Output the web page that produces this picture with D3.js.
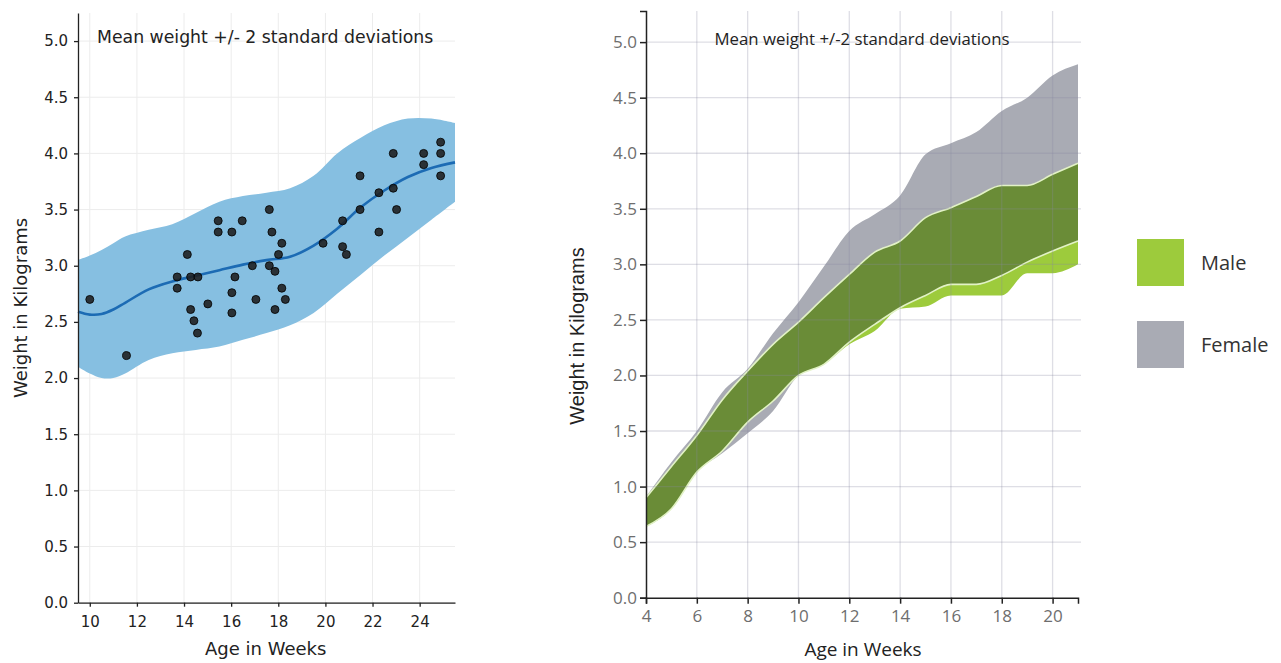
<!DOCTYPE html>
<html>
<head>
<meta charset="utf-8">
<script src="https://cdn.jsdelivr.net/npm/d3@7"></script>
<style>
  body { margin: 0; background: #fff; }
  svg { display: block; }
</style>
</head>
<body>
<svg width="1281" height="663"></svg>
<script>
// ---- left panel data: mean weight +/- 2 sd, with observed points
const bandAges  = [9.5, 10, 10.5, 11, 11.5, 12.5, 13.5, 14.5, 15.5, 16.5, 17.5, 18.5, 19.5, 20.5, 21.5, 22.5, 23.5, 24.5, 25.5];
const bandUpper = [3.05, 3.09, 3.14, 3.20, 3.26, 3.32, 3.37, 3.47, 3.57, 3.62, 3.65, 3.69, 3.80, 4.00, 4.14, 4.25, 4.31, 4.31, 4.27];
const bandMean  = [2.59, 2.565, 2.57, 2.61, 2.67, 2.79, 2.86, 2.91, 2.96, 3.01, 3.05, 3.08, 3.18, 3.33, 3.52, 3.67, 3.79, 3.87, 3.92];
const bandLower = [2.10, 2.04, 2.00, 2.00, 2.04, 2.16, 2.22, 2.25, 2.28, 2.34, 2.40, 2.47, 2.58, 2.75, 2.92, 3.09, 3.25, 3.41, 3.57];

const pointWeeks = [10.0, 11.56, 13.71, 13.71, 14.14, 14.28, 14.59, 14.28, 14.42, 14.57, 15.01, 15.45, 15.45, 16.03, 16.47,
                    16.16, 16.03, 16.03, 16.9, 17.05, 17.62, 17.73, 17.62, 17.86, 18.01, 18.15, 18.15, 18.3, 17.86, 19.9,
                    20.73, 20.73, 20.89, 21.47, 21.47, 22.27, 22.27, 22.88, 22.88, 23.02, 24.17, 24.17, 24.89, 24.89, 24.89];
const pointKgs   = [2.70, 2.20, 2.90, 2.80, 3.10, 2.90, 2.90, 2.61, 2.51, 2.40, 2.66, 3.40, 3.30, 3.30, 3.40,
                    2.90, 2.76, 2.58, 3.00, 2.70, 3.50, 3.30, 3.00, 2.95, 3.10, 3.20, 2.80, 2.70, 2.61, 3.20,
                    3.40, 3.17, 3.10, 3.80, 3.50, 3.65, 3.30, 4.00, 3.69, 3.50, 4.00, 3.90, 4.10, 4.00, 3.80];

// ---- right panel data: male / female ranges by week
const weeks       = [4, 5, 6, 7, 8, 9, 10, 11, 12, 13, 14, 15, 16, 17, 18, 19, 20, 21];
const femaleUpper = [0.91, 1.22, 1.50, 1.85, 2.06, 2.38, 2.66, 2.98, 3.30, 3.45, 3.62, 3.99, 4.09, 4.19, 4.38, 4.50, 4.70, 4.80];
const maleUpper   = [0.90, 1.18, 1.46, 1.78, 2.04, 2.28, 2.48, 2.70, 2.91, 3.11, 3.21, 3.42, 3.51, 3.61, 3.71, 3.71, 3.81, 3.91];
const femaleLower = [0.64, 0.80, 1.13, 1.30, 1.48, 1.68, 2.00, 2.10, 2.30, 2.46, 2.61, 2.72, 2.82, 2.82, 2.90, 3.02, 3.12, 3.21];
const maleLower   = [0.64, 0.80, 1.13, 1.32, 1.58, 1.77, 2.00, 2.10, 2.28, 2.40, 2.60, 2.62, 2.72, 2.72, 2.72, 2.92, 2.92, 3.00];

const legendLabels = ["Male", "Female"];
const leftXTicks  = [10, 12, 14, 16, 18, 20, 22, 24];
const rightXTicks = [4, 6, 8, 10, 12, 14, 16, 18, 20];
const yTicks      = [0, 0.5, 1, 1.5, 2, 2.5, 3, 3.5, 4, 4.5, 5];

const svg = d3.select("svg");

// ================= left panel =================
const L = { left: 78, right: 455, top: 13, bottom: 602.7 };
const xL = d3.scaleLinear().domain([9.5, 25.5]).range([L.left, L.right]);
const yL = d3.scaleLinear().domain([0, 5.25]).range([L.bottom, L.top]);

const gl = svg.append("g");

// grid
gl.selectAll(".vg").data(leftXTicks).enter().append("line")
  .attr("x1", d => xL(d)).attr("x2", d => xL(d))
  .attr("y1", L.top).attr("y2", L.bottom)
  .attr("stroke", "#ececec").attr("stroke-width", 1);
gl.selectAll(".hg").data(yTicks).enter().append("line")
  .attr("x1", L.left).attr("x2", L.right)
  .attr("y1", d => yL(d)).attr("y2", d => yL(d))
  .attr("stroke", "#ececec").attr("stroke-width", 1);

const leftRows = bandAges.map((a, i) => ({ a, u: bandUpper[i], m: bandMean[i], l: bandLower[i] }));

gl.append("path")
  .datum(leftRows)
  .attr("d", d3.area().x(d => xL(d.a)).y0(d => yL(d.l)).y1(d => yL(d.u)).curve(d3.curveCatmullRom))
  .attr("fill", "#86bfe1");

gl.append("path")
  .datum(leftRows)
  .attr("d", d3.line().x(d => xL(d.a)).y(d => yL(d.m)).curve(d3.curveCatmullRom))
  .attr("fill", "none")
  .attr("stroke", "#1c6bb4")
  .attr("stroke-width", 2.6);

gl.selectAll(".pt").data(pointWeeks).enter().append("circle")
  .attr("cx", d => xL(d))
  .attr("cy", (d, i) => yL(pointKgs[i]))
  .attr("r", 4)
  .attr("fill", "#1e1e1e")
  .attr("fill-opacity", 0.88)
  .attr("stroke", "#000")
  .attr("stroke-width", 0.8);

// axes
const axL = gl.append("g")
  .attr("transform", `translate(0,${L.bottom})`)
  .call(d3.axisBottom(xL).tickValues(leftXTicks).tickFormat(d3.format("d")).tickSize(4).tickSizeOuter(0).tickPadding(10));
const ayL = gl.append("g")
  .attr("transform", `translate(${L.left},0)`)
  .call(d3.axisLeft(yL).tickValues(yTicks).tickFormat(d3.format(".1f")).tickSize(4).tickSizeOuter(0).tickPadding(6));
[axL, ayL].forEach(g => {
  g.selectAll("path, line").attr("stroke", "#222").attr("stroke-width", 1.3);
  g.selectAll("text").attr("fill", "#222").style("font-family", "DejaVu Sans").style("font-size", "15px");
});

gl.append("text")
  .attr("x", 97).attr("y", 43)
  .style("font-family", "DejaVu Sans").style("font-size", "17.3px").attr("fill", "#222")
  .text("Mean weight +/- 2 standard deviations");

gl.append("text")
  .attr("x", 265.7).attr("y", 655)
  .attr("text-anchor", "middle")
  .style("font-family", "DejaVu Sans").style("font-size", "18px").attr("fill", "#222")
  .text("Age in Weeks");

gl.append("text")
  .attr("transform", "translate(27,308) rotate(-90)")
  .attr("text-anchor", "middle")
  .style("font-family", "DejaVu Sans").style("font-size", "18px").attr("fill", "#222")
  .text("Weight in Kilograms");

// ================= right panel =================
const R = { left: 646, right: 1078, top: 11, bottom: 597.7 };
const xR = d3.scaleLinear().domain([4, 21]).range([R.left, R.right]);
const yR = d3.scaleLinear().domain([0, 5.28]).range([R.bottom, R.top]);

const gr = svg.append("g");

const rightRows = weeks.map((w, i) => ({
  w,
  fu: femaleUpper[i], fl: femaleLower[i],
  mu: maleUpper[i], ml: maleLower[i]
}));

const femaleColor = "#a9abb4";
const maleColor = "#9dcb3c";
const bothColor = "#6a8c37";

const area = (lo, hi) => d3.area()
  .x(d => xR(d.w)).y0(d => yR(lo(d))).y1(d => yR(hi(d)))
  .curve(d3.curveMonotoneX);
const edge = f => d3.line()
  .x(d => xR(d.w)).y(d => yR(f(d)))
  .curve(d3.curveMonotoneX);

const bothLo = d => Math.max(d.fl, d.ml);
const bothHi = d => Math.min(d.fu, d.mu);

gr.append("path").datum(rightRows)
  .attr("d", area(d => d.fl, d => d.fu)).attr("fill", femaleColor);
gr.append("path").datum(rightRows)
  .attr("d", area(d => d.ml, d => d.mu)).attr("fill", maleColor);
gr.append("path").datum(rightRows)
  .attr("d", area(bothLo, bothHi)).attr("fill", bothColor);
[bothLo, bothHi].forEach(f => {
  gr.append("path").datum(rightRows)
    .attr("d", edge(f))
    .attr("fill", "none")
    .attr("stroke", "#e2f2c6").attr("stroke-width", 1.6);
});

// grid drawn over the bands
gr.selectAll(".vg").data(rightXTicks.slice(1)).enter().append("line")
  .attr("x1", d => xR(d)).attr("x2", d => xR(d))
  .attr("y1", R.top).attr("y2", R.bottom)
  .attr("stroke", "#8a8aa0").attr("stroke-opacity", 0.28).attr("stroke-width", 1.3);
gr.selectAll(".hg").data(yTicks.slice(1)).enter().append("line")
  .attr("x1", R.left).attr("x2", R.right + 3)
  .attr("y1", d => yR(d)).attr("y2", d => yR(d))
  .attr("stroke", "#8a8aa0").attr("stroke-opacity", 0.28).attr("stroke-width", 1.3);

const axR = gr.append("g")
  .attr("transform", `translate(0,${R.bottom})`)
  .call(d3.axisBottom(xR).tickValues(rightXTicks).tickFormat(d3.format("d")).tickSize(6).tickSizeOuter(6).tickPadding(6));
const ayR = gr.append("g")
  .attr("transform", `translate(${R.left},0)`)
  .call(d3.axisLeft(yR).tickValues(yTicks).tickFormat(d3.format(".1f")).tickSize(6).tickSizeOuter(6).tickPadding(3));
[axR, ayR].forEach(g => {
  g.selectAll("path, line").attr("stroke", "#222").attr("stroke-width", 1.5);
  g.selectAll("text").attr("fill", "#6e6e6e").style("font-family", "Open Sans").style("font-size", "17px");
});

gr.append("text")
  .attr("x", 862).attr("y", 45)
  .attr("text-anchor", "middle")
  .style("font-family", "Open Sans").style("font-size", "16.8px").attr("fill", "#222")
  .text("Mean weight +/-2 standard deviations");

gr.append("text")
  .attr("x", 863).attr("y", 656)
  .attr("text-anchor", "middle")
  .style("font-family", "Open Sans").style("font-size", "19px").attr("fill", "#222")
  .text("Age in Weeks");

gr.append("text")
  .attr("transform", "translate(584,336) rotate(-90)")
  .attr("text-anchor", "middle")
  .style("font-family", "Liberation Sans").style("font-size", "20px").attr("fill", "#222")
  .text("Weight in Kilograms");

// legend
const legend = gr.selectAll(".lg").data(legendLabels).enter().append("g")
  .attr("transform", (d, i) => `translate(1137,${239 + i * 82})`);
legend.append("rect")
  .attr("width", 47).attr("height", 47)
  .attr("fill", (d, i) => i === 0 ? maleColor : femaleColor);
legend.append("text")
  .attr("x", 64).attr("y", 31)
  .style("font-family", "Open Sans").style("font-size", "20px").attr("fill", "#333")
  .text(d => d);
</script>
</body>
</html>
